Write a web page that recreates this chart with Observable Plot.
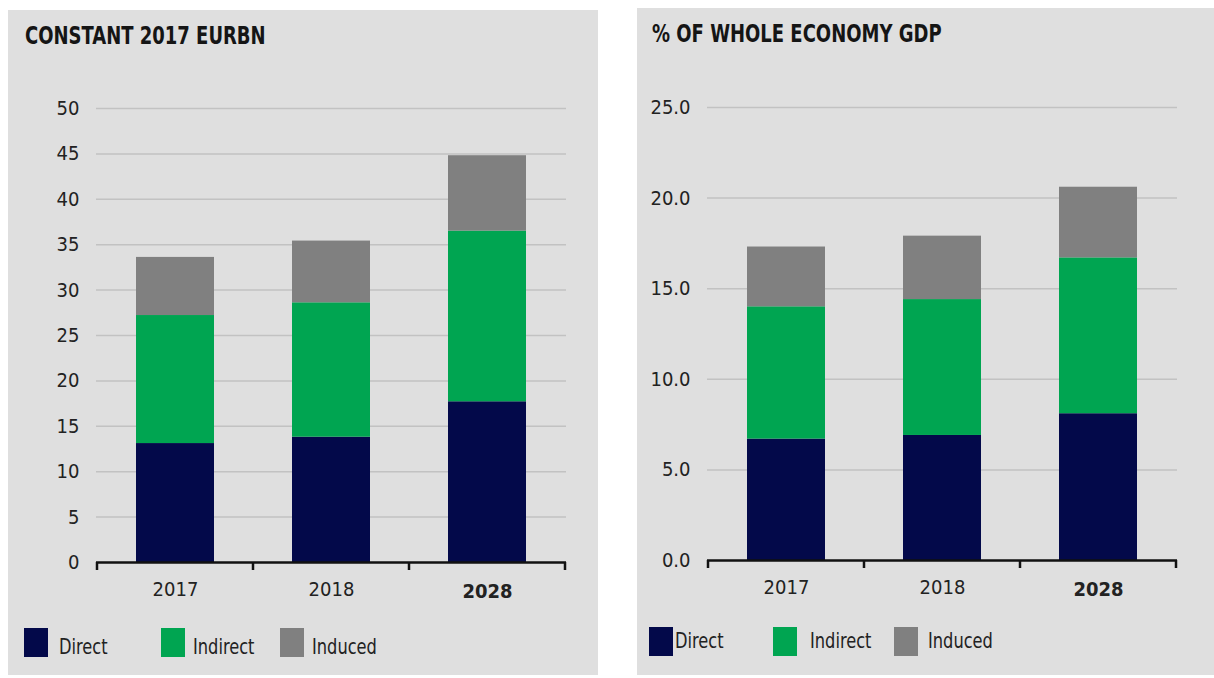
<!DOCTYPE html>
<html><head><meta charset="utf-8">
<script src="https://cdn.jsdelivr.net/npm/d3@7"></script>
<script src="https://cdn.jsdelivr.net/npm/@observablehq/plot@0.6"></script>
<style>
body{margin:0;background:#fff;width:1214px;height:678px;position:relative;overflow:hidden;font-family:"Liberation Sans Narrow","DejaVu Sans Condensed",sans-serif;}
.panel{position:absolute;background:#dfdfdf;}
.title{position:absolute;font-weight:bold;font-size:25px;line-height:1;color:#151515;white-space:nowrap;transform-origin:0 0;transform:scaleX(0.8);}
.sw{position:absolute;width:24px;height:29px;}
.lt{position:absolute;font-size:22px;line-height:1;color:#222;white-space:nowrap;transform-origin:0 0;transform:scaleX(0.82);}
.chart{position:absolute;left:0;}
</style></head><body>
<div id="p1" class="panel" style="left:8px;top:10px;width:590px;height:665px"></div>
<div id="p2" class="panel" style="left:637px;top:8px;width:577px;height:667px"></div>
<script>
const years = ["2017", "2018", "2028"];
const series = ["Direct", "Indirect", "Induced"];
const colors = ["#03094a", "#00a551", "#808080"];

const eurDirect = [13.1, 13.8, 17.7];
const eurIndirect = [14.1, 14.8, 18.8];
const eurInduced = [6.4, 6.8, 8.3];
const eurTicks = [0, 5, 10, 15, 20, 25, 30, 35, 40, 45, 50];

const gdpDirect = [6.7, 6.9, 8.1];
const gdpIndirect = [7.3, 7.5, 8.6];
const gdpInduced = [3.3, 3.5, 3.9];
const gdpTicks = [0, 5, 10, 15, 20, 25];

const titles = ["CONSTANT 2017 EURBN", "% OF WHOLE ECONOMY GDP"];

function build(direct, indirect, induced) {
  const rows = [];
  years.forEach((yr, i) => {
    rows.push({year: yr, series: series[0], value: direct[i]});
    rows.push({year: yr, series: series[1], value: indirect[i]});
    rows.push({year: yr, series: series[2], value: induced[i]});
  });
  return rows;
}

function makePanel(cfg) {
  const panel = document.getElementById(cfg.id);
  const t = document.createElement("div");
  t.className = "title";
  t.textContent = cfg.title;
  t.style.left = cfg.titleX + "px";
  t.style.top = cfg.titleY + "px";
  panel.appendChild(t);

  const data = build(cfg.direct, cfg.indirect, cfg.induced);
  const svg = Plot.plot({
    width: cfg.width,
    height: cfg.height,
    marginLeft: cfg.ml, marginRight: cfg.mr, marginTop: cfg.mt, marginBottom: cfg.mb,
    style: {background: "transparent", fontFamily: '"Liberation Sans Narrow","DejaVu Sans Condensed",sans-serif', fontSize: "20px", color: "#222", overflow: "visible"},
    x: {type: "band", domain: years, paddingInner: 0.5, paddingOuter: 0.25, label: null},
    y: {domain: [0, cfg.ticks[cfg.ticks.length - 1]], label: null},
    color: {domain: series, range: colors},
    marks: [
      Plot.gridY(cfg.ticks.filter(d => d > 0), {stroke: "#c2c2c2", strokeOpacity: 1, strokeWidth: 1.5}),
      Plot.barY(data, {x: "year", y: "value", fill: "series", inset: 0}),
      Plot.ruleY([0], {stroke: "#111", strokeWidth: 2.5}),
      Plot.axisY(cfg.ticks, {tickSize: 0, tickPadding: 17, tickFormat: cfg.fmt, label: null}),
      Plot.axisX(years.filter(d => d !== "2028"), {tickSize: 0, tickPadding: 19, label: null}),
      Plot.axisX(["2028"], {tickSize: 0, tickPadding: 21, fontWeight: "bold", label: null})
    ]
  });
  const xs = svg.scale("x"), ys = svg.scale("y");
  const y0 = ys.apply(0);
  const gap = (xs.step - xs.bandwidth) / 2;
  const bounds = years.map(d => xs.apply(d) - gap)
    .concat([xs.apply(years[years.length - 1]) + xs.bandwidth + gap]);
  d3.select(svg).append("g").selectAll("line").data(bounds).join("line")
    .attr("x1", d => d).attr("x2", d => d)
    .attr("y1", y0).attr("y2", y0 + 8)
    .attr("stroke", "#111").attr("stroke-width", 2.5);
  svg.classList.add("chart");
  svg.style.top = cfg.svgTop + "px";
  panel.appendChild(svg);

  series.forEach((s, i) => {
    const sw = document.createElement("div");
    sw.className = "sw";
    sw.style.background = colors[i];
    sw.style.left = cfg.swX[i] + "px";
    sw.style.top = cfg.legY + "px";
    panel.appendChild(sw);
    const lt = document.createElement("div");
    lt.className = "lt";
    lt.textContent = s;
    lt.style.left = cfg.txX[i] + "px";
    lt.style.top = cfg.legTextY + "px";
    panel.appendChild(lt);
  });
}

makePanel({
  id: "p1", title: titles[0], titleX: 17, titleY: 13,
  direct: eurDirect, indirect: eurIndirect, induced: eurInduced,
  ticks: eurTicks, fmt: d3.format("d"),
  width: 590, height: 540, ml: 88, mr: 32, mt: 28, mb: 58, svgTop: 70,
  swX: [16, 153, 272], txX: [51, 185, 304], legY: 618, legTextY: 626
});
makePanel({
  id: "p2", title: titles[1], titleX: 15, titleY: 13,
  direct: gdpDirect, indirect: gdpIndirect, induced: gdpInduced,
  ticks: gdpTicks, fmt: d3.format(".1f"),
  width: 577, height: 540, ml: 70, mr: 37, mt: 27, mb: 60, svgTop: 72,
  swX: [12, 136, 257], txX: [38, 173, 291], legY: 619, legTextY: 622
});
</script>
</body></html>
